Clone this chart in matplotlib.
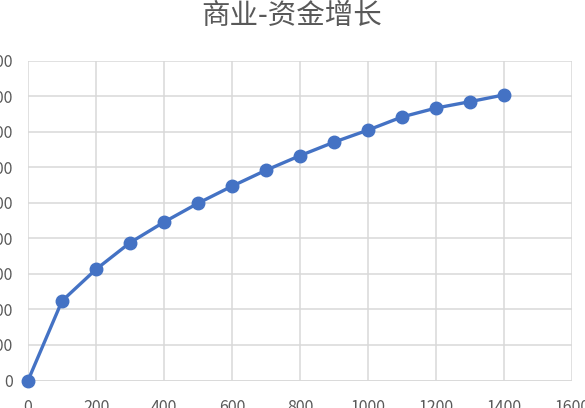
import matplotlib
matplotlib.use("Agg")
import matplotlib.pyplot as plt

plt.rcParams['font.family'] = ['Noto Sans CJK SC', 'DejaVu Sans']

# 投入资金与增长
x_vals = [0, 100, 200, 300, 400, 500, 600, 700, 800, 900, 1000, 1100, 1200, 1300, 1400]
y_vals = [0, 224, 313, 388, 446, 499, 547, 592, 633, 671, 705, 742, 767, 785, 804]
x_ticks = [0, 200, 400, 600, 800, 1000, 1200, 1400, 1600]
y_ticks = [0, 100, 200, 300, 400, 500, 600, 700, 800, 900]
title = "商业-资金增长"

fig = plt.figure(figsize=(5.85, 4.08), dpi=100)
ax = fig.add_axes([0.0479, 0.0674, 0.930, 0.7836])

ax.plot(x_vals, y_vals, color='#4472C4', linewidth=2.4, marker='o',
        markersize=9, zorder=3, clip_on=False)

ax.set_xlim(0, 1600)
ax.set_ylim(0, 900)
ax.set_xticks(x_ticks)
ax.set_yticks(y_ticks)
ax.grid(True, color='#D9D9D9', linewidth=1.1)
ax.set_axisbelow(True)
for s in ax.spines.values():
    s.set_visible(False)
ax.axhline(0, color='#D9D9D9', linewidth=1.1, zorder=1)
ax.tick_params(length=0, labelsize=11.5, labelcolor='#595959')
ax.tick_params(axis='x', pad=13)
ax.tick_params(axis='y', pad=11)

fig.text(0.499, 0.961, title, ha='center', va='center', fontsize=20.5, color='#595959')

fig.savefig("out.png", dpi=100)
